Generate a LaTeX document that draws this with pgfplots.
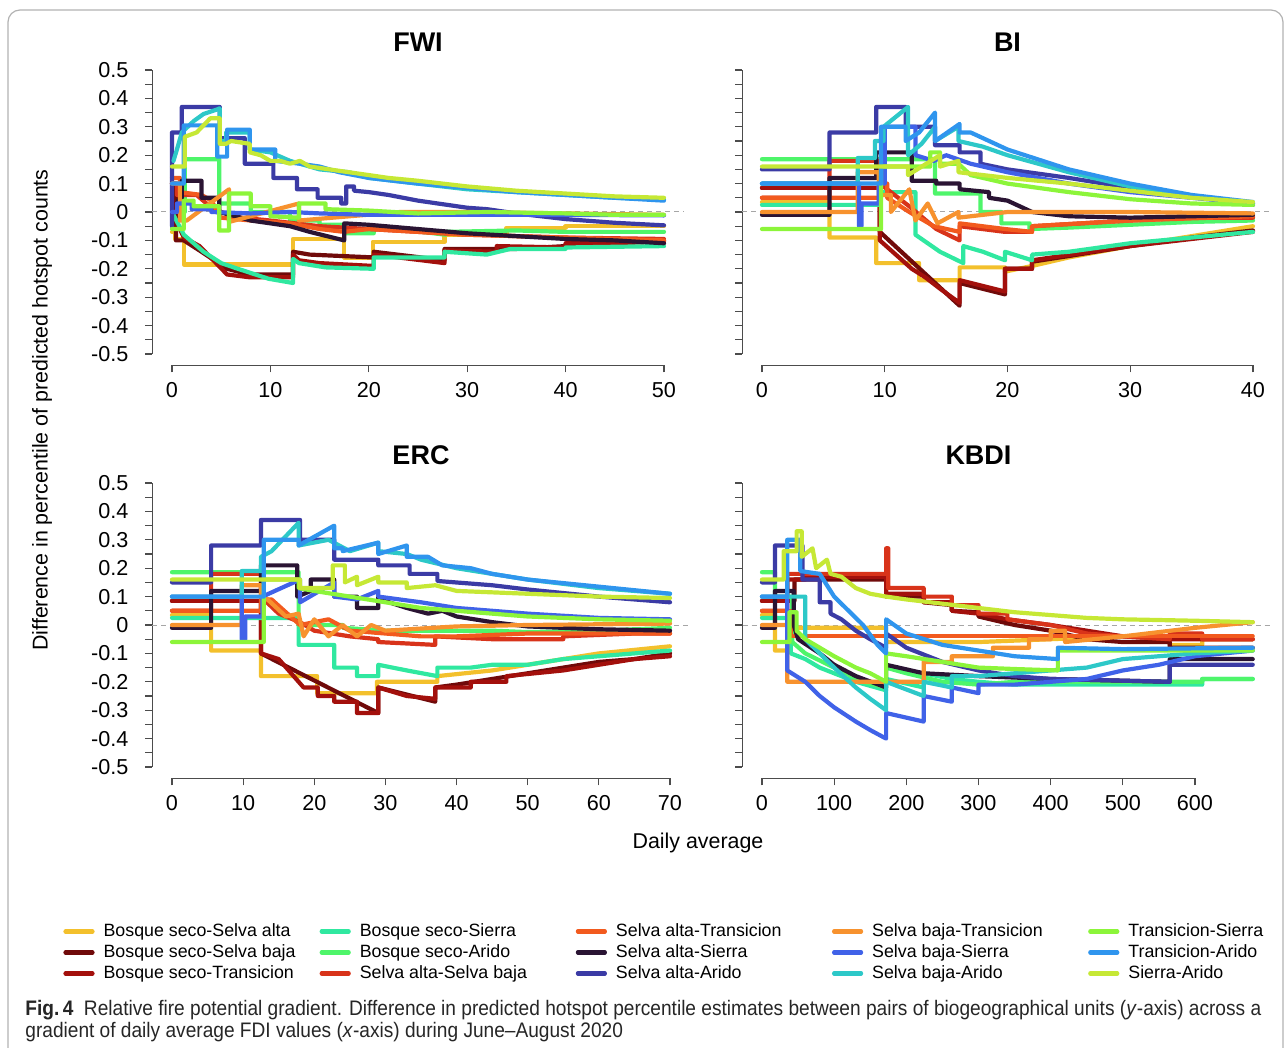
\documentclass[border=0pt]{standalone}
\usepackage{pgfplots}
\pgfplotsset{compat=1.18}
\usepackage{fontspec}
\setmainfont{Liberation Sans}
\newfontfamily\capfont[FakeStretch=0.91]{Liberation Sans}
\definecolor{c1}{HTML}{F3C02C}
\definecolor{c2}{HTML}{700A0A}
\definecolor{c3}{HTML}{A3100C}
\definecolor{c4}{HTML}{30E8A0}
\definecolor{c5}{HTML}{4EF56A}
\definecolor{c6}{HTML}{D8331A}
\definecolor{c7}{HTML}{F25A1E}
\definecolor{c8}{HTML}{2A1433}
\definecolor{c9}{HTML}{3B3BA5}
\definecolor{c10}{HTML}{F7922E}
\definecolor{c11}{HTML}{4062E8}
\definecolor{c12}{HTML}{2DC8C8}
\definecolor{c13}{HTML}{8CF53A}
\definecolor{c14}{HTML}{2F95EE}
\definecolor{c15}{HTML}{C6E835}
\pgfplotsset{
  ser/.style={line width=2.1pt, line join=round, line cap=round},
  s1/.style={ser,c1}, s2/.style={ser,c2}, s3/.style={ser,c3}, s4/.style={ser,c4}, s5/.style={ser,c5},
  s6/.style={ser,c6}, s7/.style={ser,c7}, s8/.style={ser,c8}, s9/.style={ser,c9}, s10/.style={ser,c10},
  s11/.style={ser,c11}, s12/.style={ser,c12}, s13/.style={ser,c13}, s14/.style={ser,c14}, s15/.style={ser,c15},
  zl/.style={gray!70, line width=0.5pt, dash pattern=on 2.5pt off 2pt},
  panel/.style={
    scale only axis, height=142pt, anchor=south west,
    axis x line=bottom, axis y line=left,
    axis x line shift=5.7pt, axis y line shift=9.8pt,
    axis line style={-, black!70, line width=0.6pt},
    tick style={black!70, line width=0.6pt},
    tick align=outside, major tick length=3.5pt, minor tick length=3.5pt,
    enlargelimits=false, clip=false,
    ymin=-0.5, ymax=0.5,
    ytick={-0.5,-0.4,-0.3,-0.2,-0.1,0,0.1,0.2,0.3,0.4,0.5},
    minor ytick={-0.45,-0.35,-0.25,-0.15,-0.05,0.05,0.15,0.25,0.35,0.45},
    ticklabel style={font=\fontsize{10.8}{12}\selectfont},
    xticklabel style={yshift=-1.5pt},
    yticklabel style={xshift=-5pt},
    title style={font=\fontsize{13.5}{16}\selectfont\bfseries, at={(0.5,1)}, anchor=center, yshift=8pt},
  },
  ylab/.style={yticklabels={-0.5,-0.4,-0.3,-0.2,-0.1,0,0.1,0.2,0.3,0.4,0.5}},
  noylab/.style={yticklabel=\mbox{}},
}
\begin{document}
\begin{tikzpicture}
\useasboundingbox (0,0) rectangle (643.5pt,-524pt);
\draw[gray!60, line width=0.6pt, rounded corners=6pt] (4pt,-530pt) -- (4pt,-5pt) -- (641.5pt,-5pt) -- (641.5pt,-530pt);

% ---------------- FWI ----------------
\begin{axis}[panel, ylab, at={(86pt,-177pt)}, width=246pt, xmin=0, xmax=50,
  xtick={0,10,20,30,40,50}, xticklabels={0,10,20,30,40,50}, title={FWI}]
\addplot[zl] coordinates {(-2,0)(52,0)};
\addplot[s1] coordinates {(0,-0.07)(0.3,-0.07)(0.3,-0.095)(1.2,-0.095)(1.2,-0.185)(12.3,-0.185)(12.3,-0.095)(17.5,-0.095)(17.5,-0.16)(20.4,-0.16)(20.4,-0.105)(27.7,-0.105)(27.7,-0.08)(34,-0.08)(34,-0.055)(40,-0.055)(40,-0.05)(50,-0.05)};
\addplot[s2] coordinates {(0,0.1)(0.4,0.1)(0.4,-0.1)(1.2,-0.1)(3,-0.14)(5.6,-0.2)(7.9,-0.22)(12.3,-0.22)(12.3,-0.14)(14,-0.15)(20.5,-0.16)(20.5,-0.14)(27.7,-0.17)(27.7,-0.13)(35,-0.13)(40,-0.12)(45,-0.105)(50,-0.1)};
\addplot[s3] coordinates {(0,0)(1.2,-0.09)(2.8,-0.12)(5.6,-0.22)(7.9,-0.23)(12.3,-0.23)(12.3,-0.15)(12.9,-0.17)(15,-0.18)(20.5,-0.19)(20.5,-0.15)(23,-0.16)(27.7,-0.18)(27.7,-0.135)(33,-0.14)(33,-0.12)(40,-0.125)(40,-0.11)(45,-0.11)(50,-0.105)};
\addplot[s4] coordinates {(0,0)(1.2,-0.08)(3.2,-0.14)(5,-0.18)(6.7,-0.2)(9.8,-0.235)(12.3,-0.25)(12.3,-0.165)(12.9,-0.18)(15.6,-0.195)(20.5,-0.2)(20.5,-0.16)(27.7,-0.16)(27.7,-0.14)(32,-0.15)(34.4,-0.13)(40,-0.13)(40,-0.125)(50,-0.12)};
\addplot[s5] coordinates {(1.3,0)(1.3,0.186)(4.8,0.186)(4.8,0.03)(8,0.03)(8,0)(12,0)(12,-0.03)(15,-0.03)(15,-0.045)(17.5,-0.045)(17.5,-0.075)(20.5,-0.075)(20.5,-0.055)(23,-0.06)(27.8,-0.08)(27.8,-0.07)(35,-0.065)(40,-0.07)(50,-0.07)};
\addplot[s6] coordinates {(0,0.1)(0.5,0.1)(0.5,0.06)(2.5,0.06)(3.5,0.03)(5,0)(7,-0.02)(10,-0.03)(15,-0.05)(20,-0.06)(30,-0.08)(40,-0.09)(50,-0.095)};
\addplot[s7] coordinates {(0,0.12)(0.8,0.12)(0.8,0.07)(3,0.06)(4,0.04)(5,-0.02)(8,-0.03)(12,-0.04)(15,-0.06)(17.5,-0.07)(20,-0.06)(30,-0.08)(40,-0.09)(50,-0.1)};
\addplot[s8] coordinates {(0,0)(0.6,0)(0.6,0.04)(1,0.04)(1,0.11)(3,0.11)(3,0.05)(4.8,0.05)(4.8,0)(7,-0.02)(8,-0.03)(10,-0.04)(12,-0.05)(14,-0.07)(17.5,-0.1)(17.5,-0.04)(20,-0.045)(25,-0.06)(30,-0.075)(35,-0.085)(40,-0.095)(45,-0.1)(50,-0.11)};
\addplot[s9] coordinates {(0,-0.05)(0,0.28)(1,0.28)(1,0.37)(4.85,0.37)(4.85,0.26)(7.4,0.26)(7.4,0.17)(10.3,0.17)(10.3,0.12)(12.7,0.12)(12.7,0.08)(14.8,0.08)(14.8,0.05)(17.2,0.05)(17.2,0.03)(17.7,0.03)(17.7,0.09)(18.5,0.09)(18.5,0.075)(20,0.07)(22,0.06)(25,0.04)(28,0.025)(30,0.015)(32,0.01)(35,-0.005)(40,-0.025)(45,-0.038)(50,-0.047)};
\addplot[s10] coordinates {(0,0.1)(0.8,0.1)(0.8,-0.03)(1.5,-0.03)(5.8,0.08)(5.8,-0.035)(12.9,0.03)(12.9,-0.03)(23.2,0)(30,0)(40,-0.005)(50,-0.01)};
\addplot[s11] coordinates {(0,0)(0.5,0)(0.5,0.03)(2,0.03)(2,0.01)(4,0.01)(4,0)(8,-0.005)(12,0)(15,-0.005)(20,-0.01)(30,-0.01)(40,-0.01)(50,-0.012)};
\addplot[s12] coordinates {(0.15,0.18)(0.5,0.22)(1,0.28)(2.2,0.32)(3.2,0.345)(4.5,0.36)(4.85,0.365)(4.85,0.25)(5.5,0.25)(5.5,0.28)(7.9,0.28)(7.9,0.22)(10,0.21)(12,0.18)(15,0.15)(18,0.14)(20,0.12)(25,0.1)(30,0.08)(35,0.07)(40,0.06)(45,0.05)(50,0.045)};
\addplot[s13] coordinates {(0,-0.06)(1.2,-0.06)(1.2,0.04)(2.2,0.04)(2.2,0.02)(4.8,0.02)(4.8,-0.065)(5.8,-0.065)(5.8,0.065)(8,0.065)(8,0.02)(10,0.02)(10,-0.015)(12.9,-0.02)(12.9,0.03)(15.6,0.03)(15.6,0.01)(20,0.005)(25,-0.005)(32,0)(40,-0.005)(45,-0.01)(50,-0.01)};
\addplot[s14] coordinates {(0,0.1)(1.2,0.1)(1.2,0.305)(4.6,0.305)(4.6,0.195)(5.6,0.195)(5.6,0.29)(7.9,0.29)(7.9,0.22)(10.5,0.22)(10.5,0.18)(13,0.17)(15,0.16)(17,0.14)(20,0.12)(25,0.1)(30,0.085)(35,0.07)(40,0.06)(45,0.05)(50,0.04)};
\addplot[s15] coordinates {(0,0.16)(1.3,0.16)(1.3,0.265)(2.5,0.28)(3.9,0.33)(4.85,0.33)(4.85,0.24)(5.5,0.24)(6,0.25)(7.9,0.24)(7.9,0.21)(9,0.2)(10,0.18)(11,0.18)(12,0.17)(13,0.18)(14,0.16)(16,0.15)(18,0.14)(20,0.13)(22,0.12)(25,0.11)(30,0.09)(35,0.075)(40,0.065)(45,0.055)(50,0.05)};
\end{axis}

% ---------------- BI ----------------
\begin{axis}[panel, noylab, at={(381pt,-177pt)}, width=245.5pt, xmin=0, xmax=40,
  xtick={0,10,20,30,40}, xticklabels={0,10,20,30,40}, title={BI}]
\addplot[zl] coordinates {(-1.6,0)(41.6,0)};
\addplot[s1] coordinates {(0,0.035)(5.5,0.035)(5.5,-0.09)(9.3,-0.09)(9.3,-0.18)(12.8,-0.18)(12.8,-0.24)(16.1,-0.24)(16.1,-0.195)(19.8,-0.195)(19.8,-0.21)(22,-0.19)(25,-0.16)(30,-0.12)(35,-0.085)(40,-0.05)};
\addplot[s2] coordinates {(0,0.085)(9.6,0.085)(9.6,-0.07)(16.1,-0.33)(16.1,-0.25)(19.8,-0.29)(19.8,-0.2)(22,-0.2)(22,-0.175)(25,-0.155)(30,-0.12)(35,-0.09)(40,-0.065)};
\addplot[s3] coordinates {(0,0.085)(9.6,0.085)(9.6,-0.1)(12.2,-0.2)(13.3,-0.23)(14.5,-0.27)(16.1,-0.32)(16.1,-0.24)(19.8,-0.28)(19.8,-0.2)(22,-0.2)(22,-0.17)(30,-0.12)(40,-0.07)};
\addplot[s4] coordinates {(0,0.025)(9.6,0.025)(9.6,0.07)(12.5,0.07)(12.5,-0.08)(14.5,-0.14)(16.4,-0.18)(16.4,-0.12)(18,-0.14)(19.8,-0.17)(19.8,-0.14)(22,-0.17)(22,-0.15)(25,-0.14)(30,-0.11)(35,-0.09)(40,-0.07)};
\addplot[s5] coordinates {(0,0.186)(14.1,0.186)(14.1,0.065)(17.8,0.065)(17.8,0)(19.5,0)(19.5,-0.04)(21.8,-0.04)(21.8,-0.06)(25,-0.055)(30,-0.045)(35,-0.035)(40,-0.03)};
\addplot[s6] coordinates {(0,0.05)(5.5,0.05)(5.5,0.18)(9.6,0.18)(9.6,0.1)(12,0.02)(14.2,-0.06)(16.1,-0.1)(16.1,-0.05)(19.8,-0.07)(22,-0.07)(22,-0.05)(26,-0.04)(30,-0.03)(35,-0.02)(40,-0.02)};
\addplot[s7] coordinates {(0,0.05)(9.6,0.05)(9.6,0.1)(10.2,0.1)(10.2,0.05)(12,0)(14,-0.05)(16.1,-0.07)(16.1,-0.04)(19.8,-0.06)(22,-0.07)(22,-0.05)(30,-0.03)(40,-0.015)};
\addplot[s8] coordinates {(0,-0.01)(5.5,-0.01)(5.5,0.12)(9.3,0.12)(9.3,0.21)(12.2,0.21)(12.2,0.11)(14.2,0.11)(14.2,0.1)(16.1,0.1)(16.1,0.08)(18.5,0.07)(18.5,0.05)(20,0.04)(22,0)(25,-0.015)(30,-0.02)(35,-0.015)(40,-0.01)};
\addplot[s9] coordinates {(0,0.15)(5.5,0.15)(5.5,0.28)(9.3,0.28)(9.3,0.37)(11.7,0.37)(11.7,0.3)(14.1,0.3)(14.1,0.235)(16.1,0.235)(16.1,0.21)(17.8,0.21)(17.8,0.17)(20,0.15)(25,0.12)(30,0.085)(35,0.055)(40,0.025)};
\addplot[s10] coordinates {(0,0)(7.8,0)(7.8,0.14)(9.5,0.14)(9.5,0.06)(10.5,0.06)(10.5,0)(12,0.08)(12.5,-0.03)(13.5,0.03)(14.3,-0.04)(16,0)(16,-0.02)(20,0)(25,0)(30,0)(40,-0.005)};
\addplot[s11] coordinates {(0,0.1)(7.9,0.1)(7.9,-0.05)(8.1,-0.05)(8.1,0.03)(9.5,0.03)(9.5,0.1)(10,0.1)(10,0.3)(12.5,0.3)(12.5,0.2)(14,0.18)(15,0.2)(17,0.17)(20,0.14)(25,0.1)(30,0.07)(35,0.05)(40,0.03)};
\addplot[s12] coordinates {(0,0.1)(7.8,0.1)(7.8,0.19)(9.2,0.19)(9.2,0.25)(9.9,0.25)(9.9,0.3)(11.9,0.37)(11.9,0.2)(13,0.24)(14.1,0.3)(14.1,0.25)(16,0.3)(16,0.25)(18,0.23)(20,0.2)(25,0.14)(30,0.09)(35,0.055)(40,0.03)};
\addplot[s13] coordinates {(0,-0.06)(9.7,-0.06)(9.7,0.16)(13.7,0.16)(13.7,0.21)(14.5,0.21)(14.5,0.17)(16,0.17)(17,0.13)(20,0.1)(25,0.07)(30,0.045)(35,0.03)(40,0.025)};
\addplot[s14] coordinates {(0,0.1)(9.7,0.1)(9.7,0.3)(11.7,0.3)(11.7,0.25)(12.8,0.28)(14.1,0.35)(14.1,0.25)(16.1,0.31)(16.1,0.28)(17,0.28)(20,0.22)(25,0.15)(30,0.1)(35,0.06)(40,0.035)};
\addplot[s15] coordinates {(0,0.16)(11.9,0.16)(11.9,0.13)(14.5,0.2)(14.5,0.16)(16,0.18)(16,0.14)(18,0.13)(20,0.12)(25,0.1)(30,0.075)(35,0.05)(40,0.035)};
\end{axis}

% ---------------- ERC ----------------
\begin{axis}[panel, ylab, at={(86pt,-383.5pt)}, width=249pt, xmin=0, xmax=70,
  xtick={0,10,20,30,40,50,60,70}, xticklabels={0,10,20,30,40,50,60,70}, title={ERC}]
\addplot[zl] coordinates {(-2.8,0)(72.8,0)};
\addplot[s1] coordinates {(0,0.035)(5.5,0.035)(5.5,-0.09)(12.5,-0.09)(12.5,-0.18)(20.4,-0.18)(20.4,-0.24)(28.8,-0.24)(28.8,-0.2)(37.3,-0.2)(37.3,-0.18)(45,-0.16)(50,-0.14)(55,-0.12)(60,-0.1)(70,-0.075)};
\addplot[s2] coordinates {(0,0.085)(12.5,0.085)(12.5,-0.1)(29,-0.31)(29,-0.22)(37,-0.27)(37,-0.22)(40,-0.21)(45,-0.19)(50,-0.17)(55,-0.15)(60,-0.13)(65,-0.12)(70,-0.1)};
\addplot[s3] coordinates {(0,0.085)(12.5,0.085)(12.5,-0.1)(15,-0.12)(18.5,-0.22)(20.5,-0.22)(20.5,-0.25)(22.8,-0.25)(22.8,-0.27)(26,-0.27)(26,-0.31)(29,-0.31)(29,-0.22)(33,-0.25)(37,-0.26)(37,-0.22)(42,-0.22)(42,-0.2)(47,-0.2)(47,-0.18)(55,-0.16)(60,-0.14)(65,-0.12)(70,-0.11)};
\addplot[s4] coordinates {(0,0.025)(17.8,0.025)(17.8,-0.07)(22.8,-0.07)(22.8,-0.15)(26,-0.15)(26,-0.18)(29,-0.18)(29,-0.14)(31,-0.15)(33,-0.16)(37.3,-0.18)(37.3,-0.15)(42,-0.15)(45,-0.14)(50,-0.14)(55,-0.12)(60,-0.11)(65,-0.1)(70,-0.09)};
\addplot[s5] coordinates {(0,0.186)(17.8,0.186)(17.8,0)(24,0)(24,-0.01)(30,-0.02)(40,-0.02)(45,-0.02)(50,-0.025)(60,-0.02)(70,-0.01)};
\addplot[s6] coordinates {(0,0.05)(5.5,0.05)(5.5,0.18)(12.5,0.18)(12.5,0.1)(15,0.04)(18,0.01)(20,-0.02)(25,-0.04)(29,-0.05)(29,-0.06)(37,-0.07)(37,-0.04)(45,-0.05)(55,-0.05)(55,-0.04)(65,-0.03)(70,-0.03)};
\addplot[s7] coordinates {(0,0.05)(12.5,0.05)(12.5,0.09)(14,0.09)(18,0)(22,0.02)(25,-0.02)(30,-0.03)(35,-0.04)(40,-0.04)(50,-0.03)(70,-0.03)};
\addplot[s8] coordinates {(0,-0.01)(5.5,-0.01)(5.5,0.12)(12.5,0.12)(12.5,0.21)(17.6,0.21)(17.6,0.1)(19.5,0.12)(19.5,0.16)(22.8,0.16)(22.8,0.1)(26,0.1)(26,0.06)(29,0.06)(29,0.1)(30.5,0.08)(33,0.06)(36,0.04)(38,0.05)(40,0.03)(45,0.01)(50,-0.005)(55,-0.01)(60,-0.015)(70,-0.02)};
\addplot[s9] coordinates {(0,0.15)(5.5,0.15)(5.5,0.28)(12.5,0.28)(12.5,0.37)(18,0.37)(18,0.3)(22.8,0.3)(22.8,0.23)(29,0.23)(29,0.21)(33.4,0.21)(33.4,0.18)(37.3,0.18)(37.3,0.155)(45,0.14)(50,0.125)(60,0.1)(70,0.08)};
\addplot[s10] coordinates {(0,0)(9.8,0)(9.8,0.14)(12.5,0.14)(12.5,0.1)(13,0.1)(16,0.03)(17.8,0.04)(18.5,-0.04)(20,0.02)(22,-0.04)(24,0)(26,-0.04)(28,0)(30,-0.02)(40,-0.005)(50,0)(70,0.005)};
\addplot[s11] coordinates {(0,0.1)(9.8,0.1)(9.8,-0.05)(10.3,-0.05)(10.3,0.03)(12.7,0.03)(12.7,0.1)(18,0.16)(18,0.08)(22.8,0.15)(22.8,0.1)(26,0.09)(29,0.12)(29,0.1)(35,0.08)(40,0.06)(50,0.04)(60,0.025)(70,0.02)};
\addplot[s12] coordinates {(0,0.1)(9.8,0.1)(9.8,0.19)(12.5,0.19)(12.5,0.24)(14,0.26)(17.8,0.36)(17.8,0.28)(22,0.3)(25,0.26)(29,0.29)(29,0.26)(33,0.25)(35,0.23)(40,0.2)(45,0.18)(50,0.16)(60,0.13)(70,0.11)};
\addplot[s13] coordinates {(0,-0.06)(12.9,-0.06)(12.9,0.16)(17.8,0.16)(17.8,0.13)(20,0.12)(25,0.1)(30,0.08)(35,0.06)(40,0.05)(50,0.03)(60,0.02)(70,0.015)};
\addplot[s14] coordinates {(0,0.1)(12.9,0.1)(12.9,0.3)(17.8,0.3)(17.8,0.28)(22.8,0.35)(22.8,0.27)(24,0.27)(24,0.26)(29,0.29)(29,0.25)(33,0.28)(33,0.24)(36,0.24)(38,0.21)(42,0.2)(45,0.18)(50,0.16)(60,0.135)(70,0.11)};
\addplot[s15] coordinates {(0,0.16)(18,0.16)(18,0.13)(22.6,0.13)(22.6,0.21)(24.3,0.21)(24.3,0.15)(26,0.17)(26,0.14)(29,0.17)(29,0.15)(33,0.15)(33,0.13)(37,0.14)(40,0.12)(50,0.11)(60,0.1)(70,0.095)};
\end{axis}

% ---------------- KBDI ----------------
\begin{axis}[panel, noylab, at={(381pt,-383.5pt)}, width=216.5pt, xmin=0, xmax=600,
  xtick={0,100,200,300,400,500,600}, xticklabels={0,100,200,300,400,500,600}, title={KBDI}]
\addplot[zl] coordinates {(-27,0)(707,0)};
\addplot[s1] coordinates {(0,0.035)(18,0.035)(18,-0.09)(40,-0.09)(40,-0.01)(172,-0.01)(172,-0.06)(300,-0.06)(400,-0.05)(500,-0.04)(565,-0.04)(565,-0.07)(610,-0.07)(610,-0.05)(680,-0.05)};
\addplot[s2] coordinates {(0,0.085)(45,0.085)(45,0.16)(172,0.16)(172,0.1)(224,0.1)(224,0.08)(263,0.07)(263,0.05)(300,0.045)(300,0.03)(350,0)(400,-0.02)(450,-0.05)(500,-0.06)(565,-0.06)(565,-0.08)(680,-0.08)};
\addplot[s3] coordinates {(0,0.085)(35,0.085)(35,0.16)(60,0.16)(60,0.17)(172,0.17)(172,0.11)(224,0.11)(224,0.08)(263,0.08)(263,0.05)(300,0.04)(340,0.02)(400,0)(450,-0.02)(500,-0.04)(565,-0.05)(680,-0.05)};
\addplot[s4] coordinates {(0,0.025)(40,0.025)(40,-0.1)(60,-0.12)(80,-0.15)(100,-0.17)(130,-0.2)(172,-0.23)(172,-0.19)(224,-0.22)(224,-0.17)(263,-0.19)(300,-0.2)(350,-0.21)(400,-0.21)(450,-0.21)(500,-0.21)(610,-0.21)(610,-0.19)(680,-0.19)};
\addplot[s5] coordinates {(0,0.186)(18,0.186)(18,0.1)(42,0.1)(42,-0.06)(60,-0.1)(100,-0.15)(140,-0.2)(172,-0.22)(172,-0.15)(200,-0.17)(250,-0.2)(300,-0.21)(350,-0.2)(400,-0.2)(450,-0.2)(610,-0.2)(610,-0.19)(680,-0.19)};
\addplot[s6] coordinates {(0,0.05)(35,0.05)(35,0.18)(172,0.18)(172,0.27)(175,0.27)(175,0.13)(224,0.13)(224,0.1)(263,0.1)(263,0.07)(300,0.07)(300,0.04)(340,0.04)(340,0.02)(400,0)(450,-0.03)(500,-0.04)(565,-0.05)(565,-0.03)(610,-0.03)(610,-0.05)(680,-0.05)};
\addplot[s7] coordinates {(0,0.05)(40,0.05)(40,-0.04)(680,-0.04)};
\addplot[s8] coordinates {(0,-0.01)(18,-0.01)(18,0.12)(44,0.12)(44,0)(50,-0.05)(80,-0.1)(100,-0.14)(130,-0.18)(172,-0.22)(172,-0.14)(224,-0.17)(300,-0.18)(400,-0.19)(565,-0.2)(565,-0.12)(680,-0.12)};
\addplot[s9] coordinates {(0,0.15)(18,0.15)(18,0.28)(56,0.28)(56,0.16)(80,0.16)(80,0.08)(95,0.08)(95,0.04)(110,0.02)(130,-0.02)(150,-0.05)(172,-0.08)(172,-0.03)(200,-0.08)(250,-0.13)(300,-0.16)(350,-0.18)(400,-0.19)(565,-0.2)(565,-0.14)(680,-0.14)};
\addplot[s10] coordinates {(0,0)(35,0)(35,-0.2)(224,-0.2)(224,-0.13)(263,-0.13)(263,-0.11)(320,-0.11)(320,-0.08)(370,-0.08)(370,-0.05)(400,-0.05)(400,-0.02)(420,-0.02)(420,-0.06)(500,-0.04)(600,-0.01)(680,0.01)};
\addplot[s11] coordinates {(0,0.1)(35,0.1)(35,-0.16)(60,-0.2)(80,-0.25)(100,-0.29)(130,-0.34)(150,-0.37)(172,-0.4)(172,-0.31)(224,-0.34)(224,-0.25)(263,-0.27)(263,-0.22)(300,-0.24)(300,-0.21)(350,-0.21)(400,-0.2)(450,-0.19)(500,-0.16)(550,-0.14)(600,-0.11)(680,-0.09)};
\addplot[s12] coordinates {(0,0.1)(60,0.1)(60,-0.05)(80,-0.1)(100,-0.15)(130,-0.22)(150,-0.26)(172,-0.3)(172,-0.2)(224,-0.25)(224,-0.2)(263,-0.22)(263,-0.18)(300,-0.18)(350,-0.17)(400,-0.16)(450,-0.15)(500,-0.12)(600,-0.1)(680,-0.09)};
\addplot[s13] coordinates {(0,-0.06)(38,-0.06)(38,0.045)(48,0.045)(48,-0.02)(60,-0.05)(80,-0.08)(100,-0.11)(130,-0.15)(150,-0.17)(172,-0.2)(172,-0.1)(200,-0.11)(250,-0.13)(300,-0.15)(350,-0.155)(410,-0.16)(410,-0.09)(500,-0.09)(680,-0.09)};
\addplot[s14] coordinates {(0,0.1)(35,0.1)(35,0.3)(53,0.3)(53,0.19)(80,0.18)(100,0.1)(120,0.05)(140,0)(160,-0.07)(172,-0.1)(172,0.02)(200,-0.03)(250,-0.07)(300,-0.09)(350,-0.11)(410,-0.12)(410,-0.08)(500,-0.085)(680,-0.08)};
\addplot[s15] coordinates {(0,0.16)(30,0.16)(30,0.26)(48,0.26)(48,0.33)(55,0.33)(55,0.24)(70,0.27)(75,0.2)(90,0.23)(95,0.18)(110,0.17)(130,0.13)(150,0.11)(172,0.1)(200,0.09)(250,0.075)(300,0.06)(350,0.045)(400,0.035)(450,0.025)(500,0.02)(600,0.015)(680,0.01)};
\end{axis}

% ---------------- legend ----------------
\newcommand\LE[1]{\makebox[112.5pt][l]{\hspace{4.5pt}#1}}
\begin{axis}[at={(31.5pt,-461pt)}, anchor=north west, scale only axis, width=1pt, height=1pt, hide axis,
  xmin=0, xmax=1, ymin=0, ymax=1,
  legend columns=5,
  legend image code/.code={\draw[#1] (0pt,0pt) -- (13.5pt,0pt);},
  legend style={at={(0,1)}, anchor=north west, draw=none, fill=none, inner sep=0pt,
    font=\fontsize{8.9}{10}\selectfont, row sep=1.5pt,
    nodes={inner sep=0pt, text height=6.8pt, text depth=2.2pt},
    /tikz/every even column/.style={column sep=0pt}},
  legend cell align=left]
\addlegendimage{s1}\addlegendentry{\LE{Bosque seco-Selva alta}}
\addlegendimage{s4}\addlegendentry{\LE{Bosque seco-Sierra}}
\addlegendimage{s7}\addlegendentry{\LE{Selva alta-Transicion}}
\addlegendimage{s10}\addlegendentry{\LE{Selva baja-Transicion}}
\addlegendimage{s13}\addlegendentry{\LE{Transicion-Sierra}}
\addlegendimage{s2}\addlegendentry{\LE{Bosque seco-Selva baja}}
\addlegendimage{s5}\addlegendentry{\LE{Bosque seco-Arido}}
\addlegendimage{s8}\addlegendentry{\LE{Selva alta-Sierra}}
\addlegendimage{s11}\addlegendentry{\LE{Selva baja-Sierra}}
\addlegendimage{s14}\addlegendentry{\LE{Transicion-Arido}}
\addlegendimage{s3}\addlegendentry{\LE{Bosque seco-Transicion}}
\addlegendimage{s6}\addlegendentry{\LE{Selva alta-Selva baja}}
\addlegendimage{s9}\addlegendentry{\LE{Selva alta-Arido}}
\addlegendimage{s12}\addlegendentry{\LE{Selva baja-Arido}}
\addlegendimage{s15}\addlegendentry{\LE{Sierra-Arido}}
\end{axis}

% ---------------- labels ----------------
\node[rotate=90, font=\fontsize{10.7}{12}\selectfont] at (21pt,-205pt) {Difference in percentile of predicted hotspot counts};
\node[font=\fontsize{10.7}{12}\selectfont] at (349pt,-421.5pt) {Daily average};
\node[anchor=base west, inner sep=0pt, font=\capfont\fontsize{10.5}{12}\selectfont, text=black!85] at (12.5pt,-507.5pt) {{\bfseries Fig.\,4}\enspace Relative fire potential gradient. Difference in predicted hotspot percentile estimates between pairs of biogeographical units (\textit{y}-axis) across a};
\node[anchor=base west, inner sep=0pt, font=\capfont\fontsize{10.5}{12}\selectfont, text=black!85] at (12.5pt,-518.5pt) {gradient of daily average FDI values (\textit{x}-axis) during June–August 2020};
\end{tikzpicture}
\end{document}
